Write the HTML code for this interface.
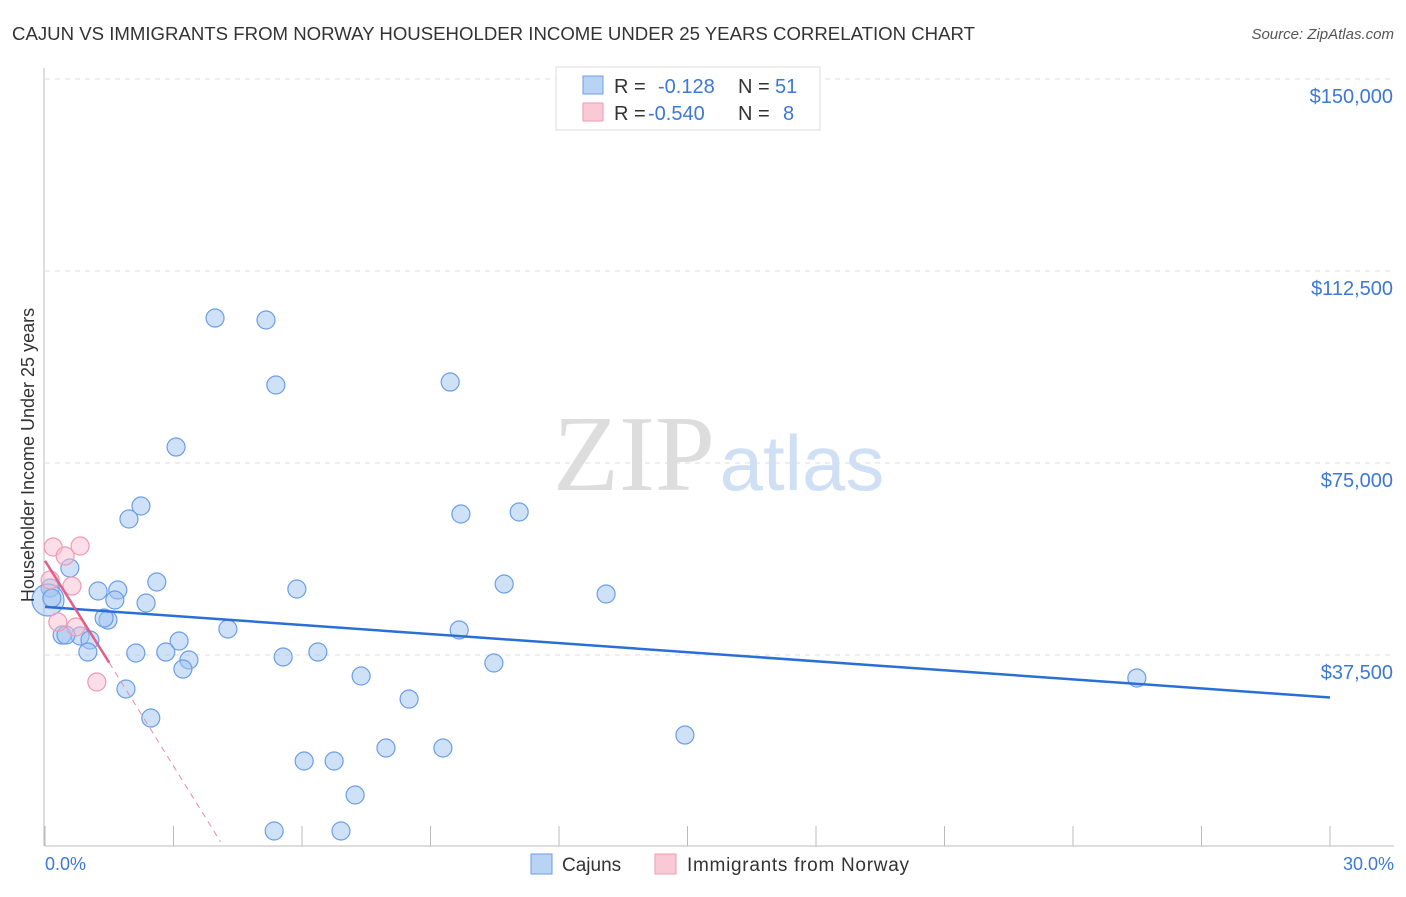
<!DOCTYPE html>
<html><head><meta charset="utf-8"><style>
body{margin:0;background:#fff;font-family:"Liberation Sans",sans-serif}
</style></head><body>
<svg width="1406" height="892" xmlns="http://www.w3.org/2000/svg" style="font-family:'Liberation Sans',sans-serif">
<text x="12" y="40" font-size="18" fill="#333" textLength="963" lengthAdjust="spacingAndGlyphs">CAJUN VS IMMIGRANTS FROM NORWAY HOUSEHOLDER INCOME UNDER 25 YEARS CORRELATION CHART</text>
<text x="1394" y="39" font-size="15" fill="#555" font-style="italic" text-anchor="end">Source: ZipAtlas.com</text>
<g>
<text x="634" y="490" font-size="108" fill="#ddd" font-family="Liberation Serif,serif" text-anchor="middle">ZIP</text>
<text x="802" y="490" font-size="78" fill="#cfe0f5" text-anchor="middle">atlas</text>
</g>
<g id="grid"></g>
<g id="axes"></g>
<g id="marks"></g>
<text transform="translate(34,455) rotate(-90)" font-size="18" fill="#333" text-anchor="middle">Householder Income Under 25 years</text>
<text x="45" y="870" font-size="18" fill="#3b78d8">0.0%</text>
<text x="1394" y="870" font-size="18" fill="#3b78d8" text-anchor="end">30.0%</text>
<g>
<rect x="556" y="67" width="264" height="63" fill="#fff" stroke="#ddd"/>
<rect x="583" y="76" width="20" height="18" fill="#b9d3f5" stroke="#6a9ee8"/>
<rect x="583" y="103" width="20" height="18" fill="#f9c9d6" stroke="#ee9ab2"/>
<text x="614" y="93" font-size="20" fill="#333">R =</text>
<text x="658" y="93" font-size="20" fill="#3b78d8">-0.128</text>
<text x="738" y="93" font-size="20" fill="#333">N =</text>
<text x="775" y="93" font-size="20" fill="#3b78d8">51</text>
<text x="614" y="120" font-size="20" fill="#333">R =</text>
<text x="648" y="120" font-size="20" fill="#3b78d8">-0.540</text>
<text x="738" y="120" font-size="20" fill="#333">N =</text>
<text x="783" y="120" font-size="20" fill="#3b78d8">8</text>
</g>
<g>
<rect x="531" y="854" width="21" height="20" fill="#b9d3f5" stroke="#6a9ee8"/>
<text x="562" y="871" font-size="19" fill="#333">Cajuns</text>
<rect x="655" y="854" width="21" height="20" fill="#f9c9d6" stroke="#ee9ab2"/>
<text x="687" y="871" font-size="19" fill="#333" textLength="222">Immigrants from Norway</text>
</g>
</svg>
<script>
const yTicks=[37500,75000,112500,150000];
const yTickLabels=["$37,500","$75,000","$112,500","$150,000"];
const xTicks=[0,3,6,9,12,15,18,21,24,27,30];
const cajunX=[3.97,5.16,5.39,9.46,3.06,2.24,1.96,9.71,11.07,0.58,2.61,1.24,1.70,1.63,2.36,5.88,10.72,13.10,0.12,0.40,0.82,1.05,1.47,1.38,4.27,3.13,9.67,2.12,2.82,1.00,3.36,3.22,5.56,6.37,10.48,7.38,1.89,8.50,2.47,14.94,7.96,9.29,6.05,6.75,7.24,5.35,6.91,25.49,0.49,0.07,0.16];
const cajunY=[103315,102925,90230,90815,78120,66600,64060,65035,65425,54490,51755,50000,50190,48240,47655,50390,51365,49410,50580,41400,41210,40430,44330,44720,42575,40230,42380,37890,38080,38080,36520,34760,37110,38080,35935,33395,30860,28900,25190,21870,19335,19335,16795,16795,10155,3125,3125,33005,41400,48240,48600];
const norX=[0.19,0.82,0.47,0.63,0.30,0.72,1.21,0.12];
const norY=[58590,58785,56830,50970,43940,42965,32225,52145];
const cajunTrend=[[0,46900],[30,29200]];
const norTrend=[[0,55900],[1.5,36000],[4.1,1000]];
const X=v=>45+v*(1285/30), Y=v=>847-v*(192/37500);
const NS="http://www.w3.org/2000/svg";
function mk(t,a,p){const e=document.createElementNS(NS,t);for(const k in a)e.setAttribute(k,a[k]);p.appendChild(e);return e;}
const grid=document.getElementById('grid'),axes=document.getElementById('axes'),marks=document.getElementById('marks');
yTicks.forEach((v,i)=>{
 const l=mk('line',{x1:45,x2:1394,y1:Y(v),y2:Y(v),stroke:'#ddd','stroke-dasharray':'5,5'},grid);
 
 
 const t=mk('text',{x:1393,y:Y(v)+24,'font-size':20,fill:'#3b78d8','text-anchor':'end'},axes);
 t.textContent=yTickLabels[i];
 
 
});
const ax=mk('line',{x1:45,x2:1394,y1:846,y2:846,stroke:'#bbb'},axes);


const ay=mk('line',{x1:44,x2:44,y1:68,y2:846,stroke:'#bbb'},axes);


xTicks.forEach(v=>{const t=mk('line',{x1:X(v),x2:X(v),y1:826,y2:846,stroke:'#bbb'},axes);
 
 });
cajunX.forEach((x,i)=>{const r=i===49?16:9;
 const c=mk('circle',{cx:X(x),cy:Y(cajunY[i]),r:r,fill:'rgba(160,196,240,0.5)',stroke:'#6a9ee8','stroke-width':1.2},marks);
 
 });
norX.forEach((x,i)=>{const c=mk('circle',{cx:X(x),cy:Y(norY[i]),r:9,fill:'rgba(248,190,208,0.5)',stroke:'#ee9ab2','stroke-width':1.2},marks);
 
 });
const bl=mk('line',{x1:X(cajunTrend[0][0]),y1:Y(cajunTrend[0][1]),x2:X(cajunTrend[1][0]),y2:Y(cajunTrend[1][1]),stroke:'#2a6fd6','stroke-width':2.5},marks);


const pl=mk('line',{x1:X(norTrend[0][0]),y1:Y(norTrend[0][1]),x2:X(norTrend[1][0]),y2:Y(norTrend[1][1]),stroke:'#e0608a','stroke-width':2.5},marks);


const pd=mk('line',{x1:X(norTrend[1][0]),y1:Y(norTrend[1][1]),x2:X(norTrend[2][0]),y2:Y(norTrend[2][1]),stroke:'#e88aa8','stroke-width':1,'stroke-dasharray':'6,5'},marks);


</script>
</body></html>
